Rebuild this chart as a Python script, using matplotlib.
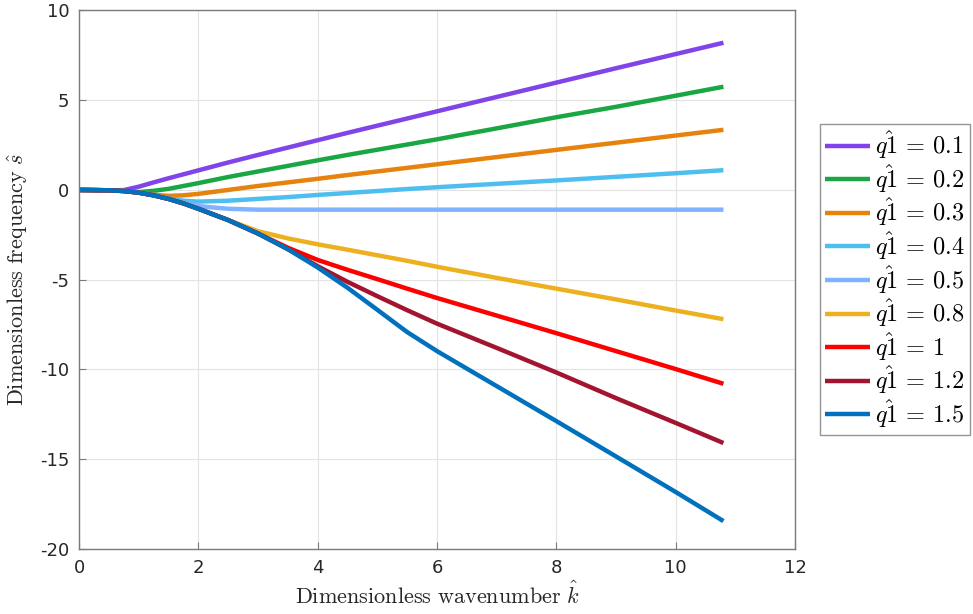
import matplotlib
matplotlib.use("Agg")
import matplotlib.pyplot as plt

plt.rcParams['mathtext.fontset'] = 'cm'

k = [0, 0.5, 0.75, 1, 1.25, 1.5, 1.75, 2, 2.5, 3, 3.5, 4, 4.5, 5, 5.5, 6, 7, 8, 9, 10, 10.8]

s_q01 = [0, -0.02, -0.01, 0.18, 0.42, 0.65, 0.87, 1.09, 1.53, 1.95, 2.36, 2.77, 3.18, 3.58, 3.98, 4.38, 5.18, 5.98, 6.78, 7.57, 8.2]
s_q02 = [0, -0.02, -0.06, -0.12, -0.05, 0.06, 0.22, 0.38, 0.72, 1.03, 1.34, 1.65, 1.95, 2.24, 2.53, 2.82, 3.43, 4.05, 4.63, 5.25, 5.75]
s_q03 = [0, -0.02, -0.06, -0.15, -0.27, -0.33, -0.30, -0.22, 0.0, 0.22, 0.42, 0.62, 0.83, 1.03, 1.23, 1.43, 1.83, 2.23, 2.63, 3.03, 3.35]
s_q04 = [0, -0.02, -0.06, -0.15, -0.30, -0.47, -0.60, -0.65, -0.60, -0.50, -0.40, -0.28, -0.17, -0.06, 0.05, 0.15, 0.34, 0.53, 0.73, 0.93, 1.1]
s_q05 = [0, -0.02, -0.06, -0.15, -0.30, -0.50, -0.72, -0.90, -1.05, -1.10, -1.10, -1.10, -1.10, -1.10, -1.10, -1.10, -1.10, -1.10, -1.10, -1.10, -1.10]
s_q08 = [0, -0.02, -0.06, -0.15, -0.30, -0.50, -0.75, -1.05, -1.68, -2.30, -2.70, -3.03, -3.33, -3.64, -3.95, -4.28, -4.90, -5.50, -6.10, -6.72, -7.2]
s_q10 = [0, -0.02, -0.06, -0.15, -0.30, -0.50, -0.75, -1.05, -1.68, -2.43, -3.22, -3.90, -4.45, -4.97, -5.50, -6.02, -7.00, -7.98, -8.98, -9.98, -10.8]
s_q12 = [0, -0.02, -0.06, -0.15, -0.30, -0.50, -0.75, -1.05, -1.68, -2.43, -3.30, -4.25, -5.12, -5.92, -6.70, -7.45, -8.80, -10.17, -11.60, -12.98, -14.1]
s_q15 = [0, -0.02, -0.06, -0.15, -0.30, -0.50, -0.75, -1.05, -1.68, -2.43, -3.30, -4.32, -5.45, -6.68, -7.92, -8.98, -10.93, -12.88, -14.85, -16.83, -18.45]

q_labels = ['0.1', '0.2', '0.3', '0.4', '0.5', '0.8', '1', '1.2', '1.5']
series = [s_q01, s_q02, s_q03, s_q04, s_q05, s_q08, s_q10, s_q12, s_q15]
colors = ['#8044E8', '#1BA644', '#E6830E', '#4DBEEE', '#80B3FF', '#EDB120', '#FF0000', '#A2142F', '#0072BD']

xticks = [0, 2, 4, 6, 8, 10, 12]
yticks = [-20, -15, -10, -5, 0, 5, 10]

fig = plt.figure(figsize=(9.73, 6.14), dpi=100)
ax = fig.add_axes([0.0812, 0.106, 0.7359, 0.877])

for s, lab, c in zip(series, q_labels, colors):
    ax.plot(k, s, color=c, lw=3.2, label=r'$\hat{q1}\,=\,%s$' % lab, solid_capstyle='butt')

ax.set_xlim(0, 12)
ax.set_ylim(-20, 10)
ax.set_xticks(xticks)
ax.set_yticks(yticks)
ax.set_xticklabels([str(t) for t in xticks])
ax.set_yticklabels([str(t) for t in yticks])
ax.grid(True, color='#E3E3E3', lw=0.8)
ax.set_axisbelow(True)
for sp in ax.spines.values():
    sp.set_color('#7A7A7A')
    sp.set_linewidth(1.0)
ax.tick_params(direction='in', length=5, width=0.8, color='#7A7A7A',
               labelsize=13, labelcolor='#262626', pad=7)

ax.set_xlabel(r'$\mathrm{Dimensionless\ wavenumber}\ \hat{k}$', fontsize=16, color='#262626', labelpad=3)
ax.set_ylabel(r'$\mathrm{Dimensionless\ frequency}\ \hat{s}$', fontsize=16, color='#262626', labelpad=7)

leg = ax.legend(loc='upper left', bbox_to_anchor=(1.035, 0.79), borderaxespad=0,
                fontsize=17.5, frameon=True, fancybox=False, edgecolor='#7A7A7A',
                handlelength=1.85, handletextpad=0.2, labelspacing=0.03, borderpad=0.2)
leg.get_frame().set_linewidth(1.0)

fig.savefig('out.png', dpi=100)
